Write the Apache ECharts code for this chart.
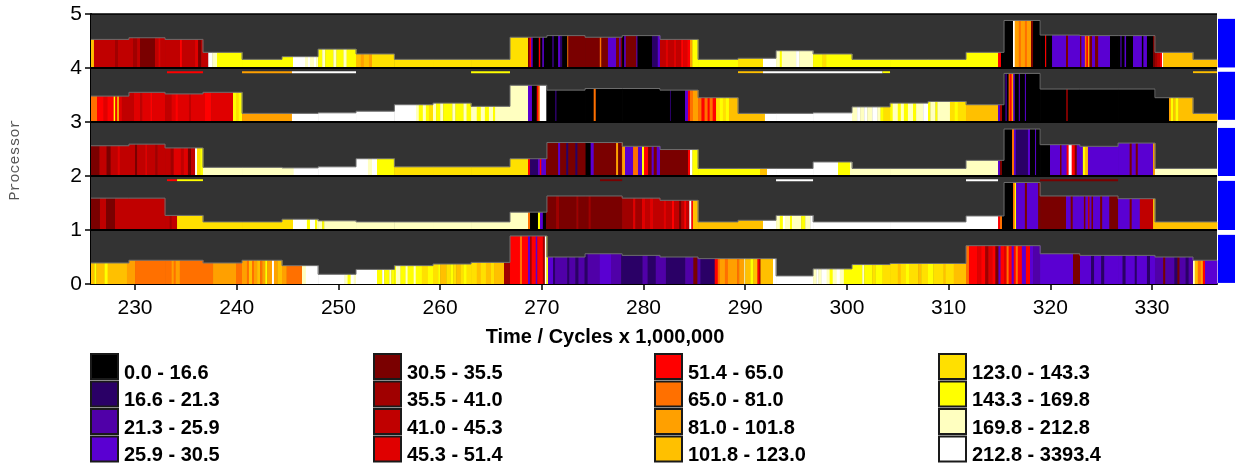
<!DOCTYPE html>
<html>
<head>
<meta charset="utf-8">
<title>Processor activity over time</title>
<script src="https://cdn.jsdelivr.net/npm/echarts@6/dist/echarts.min.js"></script>
<style>
  html, body { margin: 0; padding: 0; background: #ffffff; }
  #chart { width: 1235px; height: 464px; }
</style>
</head>
<body>
<div id="chart"></div>
<script>
// Colour bins (one colour per value range) and their legend labels
const binColors = ['#000000', '#2a0066', '#5000a8', '#5a00d2', '#7a0000', '#a00000', '#c00000', '#e00000',
  '#ff0000', '#ff7000', '#ffa000', '#ffc000', '#ffe000', '#ffff00', '#ffffc0', '#ffffff'];
const binLabels = ['0.0 - 16.6', '16.6 - 21.3', '21.3 - 25.9', '25.9 - 30.5', '30.5 - 35.5', '35.5 - 41.0',
  '41.0 - 45.3', '45.3 - 51.4', '51.4 - 65.0', '65.0 - 81.0', '81.0 - 101.8', '101.8 - 123.0',
  '123.0 - 143.3', '143.3 - 169.8', '169.8 - 212.8', '212.8 - 3393.4'];

// Time axis (cycles x 1,000,000)
const timeMin = 225.67;
const timeMax = 336.39;
const xTicks = [230, 240, 250, 260, 270, 280, 290, 300, 310, 320, 330];
const yTicks = [0, 1, 2, 3, 4, 5];

// Sampling windows: bar height is constant inside each window
const windowEdges = [225.67, 229.4, 232.95, 236.68, 240.52, 244.45, 248.0, 251.73, 255.5, 259.3, 263.04,
  266.87, 270.5, 274.25, 277.9, 281.62, 285.36, 289.29, 293.03, 296.67, 300.5, 304.24, 307.97, 311.71,
  315.45, 319.0, 322.9, 326.66, 330.29, 334.03, 336.39];

// Bar height per window (fraction of a processor row)
const p0Heights = [0.39, 0.44, 0.44, 0.39, 0.44, 0.34, 0.18, 0.27, 0.34, 0.37, 0.40, 0.89, 0.50, 0.56, 0.53,
  0.50, 0.47, 0.47, 0.15, 0.28, 0.36, 0.38, 0.38, 0.71, 0.71, 0.56, 0.53, 0.53, 0.50, 0.44];
const p1Heights = [0.59, 0.59, 0.27, 0.15, 0.15, 0.20, 0.17, 0.15, 0.15, 0.15, 0.15, 0.33, 0.63, 0.63, 0.59,
  0.55, 0.15, 0.18, 0.27, 0.15, 0.15, 0.15, 0.15, 0.26, 0.88, 0.63, 0.63, 0.58, 0.15, 0.15];
const p2Heights = [0.56, 0.59, 0.52, 0.16, 0.16, 0.15, 0.17, 0.32, 0.17, 0.17, 0.17, 0.32, 0.62, 0.62, 0.55,
  0.49, 0.14, 0.14, 0.14, 0.26, 0.14, 0.14, 0.14, 0.29, 0.87, 0.58, 0.55, 0.61, 0.14, 0.14];
const p3Heights = [0.48, 0.55, 0.52, 0.55, 0.16, 0.16, 0.17, 0.20, 0.32, 0.35, 0.29, 0.68, 0.59, 0.62, 0.62,
  0.59, 0.45, 0.16, 0.16, 0.17, 0.28, 0.35, 0.38, 0.32, 0.90, 0.61, 0.61, 0.61, 0.45, 0.16];
const p4Heights = [0.53, 0.56, 0.53, 0.29, 0.16, 0.21, 0.35, 0.26, 0.16, 0.16, 0.16, 0.57, 0.60, 0.57, 0.60,
  0.53, 0.16, 0.18, 0.32, 0.26, 0.16, 0.16, 0.16, 0.29, 0.88, 0.61, 0.60, 0.60, 0.29, 0.16];

// Colour bands per processor: [start time, colour bin]; each band runs to the next start
const p0Bands = [[225.67,11],[226.0,13],[226.2,11],[227.0,13],[227.3,11],[229.2,10],[230.0,9],[233.6,10],[233.8,9],
  [234.0,10],[234.4,9],[237.67,10],[239.93,9],[240.52,10],[241.0,9],[241.2,11],[241.5,9],[241.7,10],[242.0,11],
  [242.3,9],[242.5,10],[242.8,13],[243.0,10],[243.47,15],[243.66,10],[244.0,11],[244.45,10],[244.9,9],[246.42,14],
  [246.8,15],[250.6,14],[250.9,13],[251.2,15],[251.5,14],[251.73,15],[253.79,13],[254.3,15],[254.5,13],[255.0,14],
  [255.2,13],[255.66,14],[256.1,13],[256.6,14],[256.8,13],[257.4,14],[257.6,13],[258.2,12],[258.8,13],[259.3,12],
  [259.8,13],[260.0,11],[260.6,12],[261.0,13],[261.3,12],[261.6,11],[262.0,12],[262.3,13],[262.6,12],[263.6,11],
  [264.0,12],[264.5,11],[265.0,12],[265.3,11],[266.28,5],[266.87,8],[267.85,9],[268.05,8],[268.64,3],[268.84,5],
  [269.0,8],[269.4,3],[269.55,8],[270.1,5],[270.3,15],[270.45,13],[270.61,3],[271.1,1],[271.3,2],[272.5,1],
  [272.7,2],[273.3,1],[273.6,2],[274.2,1],[274.5,2],[275.7,3],[276.8,2],[277.8,1],[279.9,2],[280.4,1],[281.2,2],
  [282.2,1],[284.1,2],[284.9,4],[285.3,2],[285.6,1],[287.0,8],[287.3,9],[287.5,10],[288.0,9],[288.3,10],[289.2,9],
  [289.4,10],[289.9,14],[290.0,11],[290.5,13],[290.8,11],[291.2,8],[291.4,5],[291.5,11],[292.73,15],[296.67,14],
  [297.0,15],[297.2,14],[297.5,15],[298.0,14],[298.3,13],[298.6,14],[299.0,15],[299.3,14],[299.7,13],[301.5,14],
  [301.7,13],[302.5,12],[302.8,13],[303.5,12],[305.0,11],[305.3,12],[305.8,13],[306.1,12],[307.0,11],[307.3,12],
  [307.97,13],[308.5,12],[309.5,11],[309.7,12],[310.5,11],[311.71,9],[312.0,8],[312.8,7],[313.2,8],[313.6,5],
  [313.9,7],[314.3,8],[314.6,4],[314.9,3],[315.1,8],[315.45,7],[315.7,9],[315.9,8],[316.2,3],[316.4,8],[316.6,9],
  [316.8,8],[317.2,3],[317.6,8],[318.0,3],[318.3,2],[318.99,3],[322.23,4],[322.92,3],[324.0,1],[324.3,3],
  [325.0,1],[325.3,3],[327.1,1],[327.4,3],[328.3,1],[328.5,3],[329.5,1],[329.8,3],[330.29,2],[331.1,4],[331.3,2],
  [332.2,1],[332.5,4],[332.7,2],[333.3,1],[333.6,2],[334.03,14],[334.2,11],[334.5,9],[334.8,10],[335.0,8],
  [335.21,3]];
const p1Bands = [[225.67,4],[226.55,6],[227.15,4],[228.03,6],[233.4,5],[233.6,6],[234.13,12],[245.53,15],
  [246.9,13],[247.2,15],[247.7,13],[247.9,14],[248.4,13],[248.6,14],[268.64,9],[268.84,0],[269.62,13],[269.82,3],
  [270.1,0],[270.41,4],[271.4,5],[271.7,4],[273.4,5],[273.6,4],[274.6,5],[274.8,4],[277.88,5],[278.97,7],
  [279.2,5],[279.85,7],[280.15,6],[280.64,7],[280.95,6],[282.0,7],[282.2,6],[282.8,8],[283.0,6],[283.5,4],
  [283.7,6],[284.0,8],[284.2,6],[284.5,15],[284.7,8],[284.86,11],[291.75,15],[293.03,14],[293.4,13],[293.7,15],
  [293.9,14],[294.4,13],[294.6,14],[295.5,13],[295.9,14],[296.4,15],[314.86,8],[315.05,9],[315.25,0],[316.33,9],
  [316.5,13],[316.63,3],[317.5,4],[317.7,3],[318.8,4],[321.54,3],[322.0,4],[322.2,3],[323.3,4],[323.45,3],
  [323.7,6],[323.85,3],[324.05,4],[324.2,3],[324.9,4],[325.1,3],[325.8,4],[326.66,3],[327.8,4],[328.0,3],
  [328.8,6],[330.1,11]];
const p2Bands = [[225.67,4],[226.5,6],[227.2,4],[227.6,6],[228.3,7],[228.5,6],[230.0,4],[230.2,6],[231.0,7],
  [231.2,6],[232.0,5],[232.2,6],[233.5,5],[233.8,7],[234.5,6],[234.8,7],[235.2,4],[235.5,6],[235.9,15],
  [236.09,12],[236.4,13],[236.68,14],[245.6,15],[252.9,14],[253.3,15],[253.79,13],[255.46,12],[268.64,8],
  [268.84,1],[269.62,3],[269.8,8],[269.95,3],[270.41,4],[271.6,3],[271.8,4],[272.4,1],[272.6,4],[273.3,1],
  [273.5,4],[274.3,0],[274.8,3],[275.1,4],[277.3,10],[277.5,4],[277.88,10],[278.18,3],[278.97,9],[279.46,3],
  [279.85,13],[280.05,8],[280.45,4],[280.8,3],[281.0,4],[281.3,3],[281.62,4],[284.37,8],[284.57,15],[284.8,13],
  [291.45,11],[292.14,15],[299.12,13],[300.3,14],[314.86,3],[315.05,4],[315.25,0],[316.23,9],[316.43,3],
  [316.6,1],[317.8,3],[318.0,0],[318.5,3],[318.6,0],[319.97,3],[320.95,4],[321.1,3],[321.6,8],[321.8,15],
  [322.1,8],[322.4,4],[322.6,3],[323.2,13],[323.4,11],[323.7,3],[327.8,4],[328.0,3],[328.4,4],[328.6,3],
  [330.1,10],[330.29,14]];
const p3Bands = [[225.67,9],[226.26,8],[226.9,7],[227.3,8],[227.9,13],[228.05,8],[228.25,12],[228.4,7],[228.7,6],
  [229.9,7],[230.5,6],[230.7,7],[231.5,8],[231.7,7],[232.95,6],[233.6,7],[234.0,8],[234.2,7],[235.3,6],[235.5,7],
  [236.88,8],[237.5,7],[239.63,13],[239.93,12],[240.2,13],[240.52,10],[245.43,15],[257.63,14],[257.9,13],
  [258.3,14],[258.6,13],[258.9,12],[259.3,14],[259.6,13],[260.0,14],[260.3,13],[261.2,14],[261.5,13],[262.3,14],
  [262.6,13],[263.04,14],[263.6,13],[264.0,14],[264.4,13],[264.8,14],[265.2,13],[265.4,14],[268.64,3],[269.03,0],
  [269.5,8],[269.65,9],[269.8,15],[270.45,0],[271.3,1],[271.45,0],[275.1,9],[275.3,0],[282.6,1],[282.7,0],
  [284.08,3],[284.37,8],[284.57,9],[284.86,10],[285.36,9],[285.7,8],[286.0,9],[286.3,8],[286.5,9],[286.8,8],
  [287.13,12],[287.5,13],[287.8,12],[288.1,13],[288.4,11],[291.94,15],[300.5,14],[301.0,15],[301.3,14],
  [301.7,15],[302.0,14],[302.5,15],[303.0,14],[303.3,13],[303.6,12],[304.24,13],[304.5,14],[305.0,13],
  [305.3,14],[305.6,13],[306.0,14],[306.5,13],[306.8,14],[307.5,15],[307.97,13],[308.2,14],[308.7,13],
  [308.9,14],[310.13,12],[310.6,13],[310.9,12],[311.71,11],[314.86,3],[315.05,5],[315.25,0],[315.6,3],
  [315.7,0],[315.9,9],[316.0,8],[316.2,10],[316.35,3],[316.5,0],[316.9,3],[317.0,0],[317.5,3],[317.6,0],
  [321.54,4],[321.74,0],[331.67,10],[331.85,13],[332.1,11],[332.3,13],[332.6,11]];
const p4Bands = [[225.67,11],[225.96,6],[228.03,5],[228.32,6],[229.8,5],[230.2,6],[230.49,4],[231.96,6],
  [232.3,7],[232.5,6],[234.42,8],[234.6,6],[235.9,7],[236.2,4],[236.5,6],[237.2,15],[237.6,14],[238.06,13],
  [245.53,15],[246.71,14],[247.0,15],[247.2,14],[247.6,15],[247.8,14],[248.0,13],[248.4,14],[248.7,13],
  [249.5,14],[249.8,13],[250.5,14],[250.8,13],[251.73,11],[252.2,10],[252.5,11],[253.0,10],[253.3,12],
  [268.64,4],[268.8,8],[268.95,3],[269.1,0],[269.7,8],[269.85,0],[270.05,3],[270.2,0],[271.0,1],[271.2,0],
  [271.6,3],[271.8,1],[272.0,0],[272.5,9],[272.6,4],[275.7,9],[275.85,4],[276.5,3],[277.3,4],[277.6,3],
  [277.75,4],[277.9,0],[278.1,3],[278.25,4],[279.3,3],[279.4,0],[280.83,1],[281.4,3],[281.62,6],[282.2,7],
  [282.4,6],[283.0,7],[283.2,6],[283.7,8],[283.9,7],[284.3,8],[284.57,10],[284.8,13],[289.29,12],[291.75,15],
  [293.03,14],[293.4,13],[293.6,14],[295.0,15],[295.3,14],[296.67,13],[297.6,12],[297.95,13],[314.86,8],
  [315.15,0],[316.33,15],[316.5,10],[316.9,9],[317.1,10],[317.5,9],[317.7,10],[318.1,4],[318.3,0],[319.48,8],
  [319.6,0],[320.17,3],[321.54,4],[321.74,3],[322.92,4],[323.05,3],[323.4,9],[323.55,8],[323.7,10],[323.85,4],
  [324.1,3],[324.4,4],[324.7,3],[325.87,0],[326.9,3],[327.0,0],[327.3,3],[327.45,0],[328.13,3],[329.0,0],
  [329.15,3],[329.5,0],[330.1,4],[330.29,5],[330.5,6],[330.8,8],[330.98,15],[331.1,11]];

// Short marker strips near the top of a row: [start, end, processor, colour bin]
const markerStrips = [[233.14,236.68,3,8],[240.52,245.43,3,10],[245.43,251.73,3,15],[263.04,266.87,3,13],
  [289.29,291.75,3,11],[291.75,303.5,3,15],[303.5,304.24,3,13],[334.03,336.39,3,11],
  [233.14,234.13,1,8],[234.13,236.68,1,13],[275.72,277.9,1,4],[293.03,296.67,1,15],[311.71,314.86,1,15],
  [318.99,326.66,1,4]];

// Per-processor totals shown as blue bars right of the plot: [low, high] in row units
const totalBars = [[0.02, 0.91], [1.0, 1.91], [2.0, 2.89], [3.04, 3.93], [4.01, 4.91]];

const processorBands = [p0Bands, p1Bands, p2Bands, p3Bands, p4Bands];
const processorHeights = [p0Heights, p1Heights, p2Heights, p3Heights, p4Heights];

// Split every colour band at window edges so each piece takes its window's height
function buildPieces() {
  const out = [];
  processorBands.forEach(function (bands, row) {
    const heights = processorHeights[row];
    for (let i = 0; i < bands.length; i++) {
      const s = bands[i][0];
      const e = i + 1 < bands.length ? bands[i + 1][0] : timeMax;
      for (let w = 0; w < heights.length; w++) {
        const a = Math.max(s, windowEdges[w]);
        const b = Math.min(e, windowEdges[w + 1]);
        if (b > a) out.push([a, b, row, heights[w], bands[i][1]]);
      }
    }
  });
  return out;
}
const pieces = buildPieces();

const chart = echarts.init(document.getElementById('chart'), null, { renderer: 'canvas' });

const FONT = '"Liberation Sans", Arial, Helvetica, sans-serif';

// Legend: four columns of colour swatches with range labels
const legendCols = [90, 373, 654, 938];
const legendRows = [353, 380.5, 408, 435.5];
const legendGraphics = [];
binLabels.forEach(function (label, i) {
  const cx = legendCols[Math.floor(i / 4)];
  const cy = legendRows[i % 4];
  legendGraphics.push({
    type: 'rect', left: cx, top: cy, silent: true,
    shape: { width: 27, height: 25 },
    style: { fill: binColors[i], stroke: '#1a1a1a', lineWidth: 2 }
  });
  legendGraphics.push({
    type: 'text', x: cx + 34, y: cy + 20, silent: true,
    style: { text: label, font: 'bold 20px ' + FONT, fill: '#000', textVerticalAlign: 'middle', verticalAlign: 'middle' }
  });
});

const option = {
  animation: false,
  backgroundColor: '#ffffff',
  grid: [
    { left: 91, right: 18, top: 14, bottom: 180, containLabel: false },
    { left: 1218, right: 0, top: 14, bottom: 180, containLabel: false }
  ],
  xAxis: [
    {
      type: 'value', gridIndex: 0, min: timeMin, max: timeMax,
      axisLine: { show: true, onZero: false, lineStyle: { color: '#000', width: 2 } },
      axisTick: { show: true, customValues: xTicks, length: 6, lineStyle: { color: '#000', width: 1.5 } },
      axisLabel: { customValues: xTicks, margin: 14, color: '#000', fontSize: 21, fontFamily: FONT },
      splitLine: { show: false }
    },
    { type: 'value', gridIndex: 1, min: 0, max: 1, show: false }
  ],
  yAxis: [
    {
      type: 'value', gridIndex: 0, min: 0, max: 5, interval: 1,
      axisLine: { show: true, lineStyle: { color: '#000', width: 2 } },
      axisTick: { show: true, length: 6, lineStyle: { color: '#000', width: 1.5 } },
      axisLabel: { margin: 9, color: '#000', fontSize: 21, fontFamily: FONT, padding: [6, 0, 0, 0],
        formatter: function (v) { return yTicks.indexOf(v) >= 0 ? String(v) : ''; } },
      splitLine: { show: false }
    },
    { type: 'value', gridIndex: 1, min: 0, max: 5, show: false }
  ],
  graphic: [
    {
      type: 'text', x: 605, y: 337, silent: true,
      style: { text: 'Time / Cycles x 1,000,000', font: 'bold 20px ' + FONT, fill: '#000',
        textAlign: 'center', align: 'center', textVerticalAlign: 'middle', verticalAlign: 'middle' }
    },
    {
      type: 'text', x: 15, y: 160, rotation: Math.PI / 2, silent: true,
      style: { text: 'Processor', font: '15px "Liberation Mono", "DejaVu Sans Mono", monospace', fill: '#555',
        textAlign: 'center', align: 'center', textVerticalAlign: 'middle', verticalAlign: 'middle' }
    }
  ].concat(legendGraphics),
  series: [
    {
      // dark background of every processor row
      type: 'custom', name: 'rows', xAxisIndex: 0, yAxisIndex: 0, silent: true,
      data: [[0], [1], [2], [3], [4]],
      encode: { x: -1, y: 0 },
      renderItem: function (params, api) {
        const row = api.value(0);
        const a = api.coord([timeMin, row + 1]);
        const b = api.coord([timeMax, row]);
        return { type: 'rect', shape: { x: a[0], y: a[1], width: b[0] - a[0], height: b[1] - a[1] },
          style: { fill: '#333333' } };
      }
    },
    {
      // coloured activity pieces
      type: 'custom', name: 'activity', xAxisIndex: 0, yAxisIndex: 0, silent: true,
      data: pieces,
      encode: { x: [0, 1], y: 2 },
      renderItem: function (params, api) {
        const x0 = api.value(0), x1 = api.value(1), row = api.value(2), h = api.value(3);
        const a = api.coord([x0, row + h]);
        const b = api.coord([x1, row]);
        return { type: 'rect', shape: { x: a[0], y: a[1], width: b[0] - a[0] + 0.4, height: b[1] - a[1] },
          style: { fill: binColors[api.value(4)] } };
      }
    },
    {
      // outline of the stepped height profile
      type: 'custom', name: 'profile', xAxisIndex: 0, yAxisIndex: 0, silent: true,
      data: [[0], [1], [2], [3], [4]],
      encode: { x: -1, y: 0 },
      renderItem: function (params, api) {
        const row = api.value(0);
        const heights = processorHeights[row];
        const pts = [];
        for (let w = 0; w < heights.length; w++) {
          pts.push(api.coord([windowEdges[w], row + heights[w]]));
          pts.push(api.coord([windowEdges[w + 1], row + heights[w]]));
        }
        return { type: 'polyline', shape: { points: pts },
          style: { stroke: '#6e6e6e', lineWidth: 1, fill: null } };
      }
    },
    {
      // marker strips
      type: 'custom', name: 'markers', xAxisIndex: 0, yAxisIndex: 0, silent: true,
      data: markerStrips,
      encode: { x: [0, 1], y: 2 },
      renderItem: function (params, api) {
        const row = api.value(2);
        const a = api.coord([api.value(0), row + 0.94]);
        const b = api.coord([api.value(1), row + 0.905]);
        return { type: 'rect', shape: { x: a[0], y: a[1], width: b[0] - a[0], height: b[1] - a[1] },
          style: { fill: binColors[api.value(3)] } };
      }
    },
    {
      // black separators between processor rows and along the top
      type: 'custom', name: 'separators', xAxisIndex: 0, yAxisIndex: 0, silent: true,
      data: [[1], [2], [3], [4], [5]],
      encode: { x: -1, y: 0 },
      renderItem: function (params, api) {
        const y = api.value(0);
        const a = api.coord([timeMin, y]);
        const b = api.coord([timeMax, y]);
        return { type: 'line', shape: { x1: a[0], y1: a[1], x2: b[0], y2: b[1] },
          style: { stroke: '#000', lineWidth: y === 5 ? 1.5 : 2 } };
      }
    },
    {
      // per-processor totals
      type: 'custom', name: 'totals', xAxisIndex: 1, yAxisIndex: 1, silent: true,
      data: totalBars,
      encode: { x: -1, y: [0, 1] },
      renderItem: function (params, api) {
        const a = api.coord([0, api.value(1)]);
        const b = api.coord([1, api.value(0)]);
        return { type: 'rect', shape: { x: a[0], y: a[1], width: b[0] - a[0], height: b[1] - a[1] },
          style: { fill: '#0000ff' } };
      }
    }
  ]
};

chart.setOption(option);
</script>
</body>
</html>
